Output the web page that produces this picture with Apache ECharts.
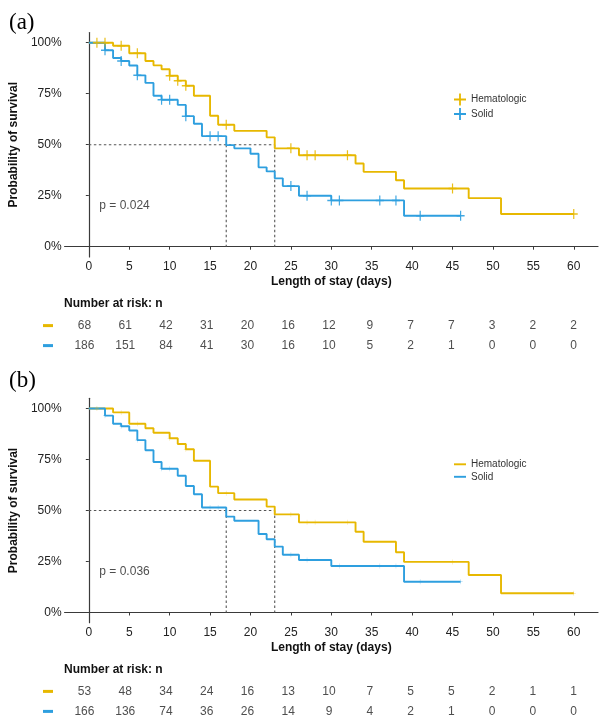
<!DOCTYPE html>
<html><head><meta charset="utf-8">
<script src="https://cdn.jsdelivr.net/npm/echarts@6/dist/echarts.min.js"></script>
<style>html,body{margin:0;padding:0;background:#fff}#c{width:607px;height:727px}</style>
</head><body><div id="c"></div>
<script>
// ---------- data ----------
const xTicks = [0, 5, 10, 15, 20, 25, 30, 35, 40, 45, 50, 55, 60];
const yTicks = [0, 25, 50, 75, 100];
const groups = ['Hematologic', 'Solid'];

// Panel (a)
const hemaTimesA = [0, 3, 5, 7, 8, 9, 10, 11, 12, 13, 15, 16, 18, 22, 23, 26, 33, 34, 38, 39, 47, 51, 60];
const hemaSurvA  = [100, 98.5, 94.8, 91.0, 88.9, 87.0, 83.8, 81.4, 78.9, 74.0, 64.2, 59.8, 56.8, 53.6, 48.2, 44.8, 40.8, 36.7, 32.6, 28.5, 23.8, 16.0, 16.0];
const hemaCensA  = [1, 2, 4, 6, 10, 11, 12, 17, 25, 27, 28, 32, 45, 60];
const solidTimesA = [0, 2, 3, 4, 5, 6, 7, 8, 9, 11, 12, 13, 14, 17, 18, 20, 21, 22, 23, 24, 26, 30, 39, 46];
const solidSurvA  = [100, 96.3, 92.5, 91.0, 88.8, 84.0, 80.3, 74.0, 72.0, 69.5, 64.0, 60.3, 54.2, 49.8, 48.2, 45.6, 38.9, 36.9, 33.5, 29.7, 25.0, 22.7, 15.2, 15.2];
const solidCensA  = [2, 4, 6, 9, 10, 12, 15, 16, 25, 27, 30, 31, 36, 38, 41, 46];
const mediansA = [17, 23];
const pValueA = 'p = 0.024';
const riskHemaA  = [68, 61, 42, 31, 20, 16, 12, 9, 7, 7, 3, 2, 2];
const riskSolidA = [186, 151, 84, 41, 30, 16, 10, 5, 2, 1, 0, 0, 0];

// Panel (b)
const hemaTimesB = [0, 3, 5, 7, 8, 10, 11, 12, 13, 15, 16, 18, 22, 23, 26, 33, 34, 38, 39, 47, 51, 60];
const hemaSurvB  = [100, 98.1, 92.5, 90.3, 88.1, 85.4, 82.6, 80.0, 74.4, 61.7, 58.5, 55.4, 51.9, 48.1, 44.2, 39.6, 34.7, 29.5, 24.8, 18.4, 9.4, 9.4];
const hemaCensB  = [1, 4, 6, 10, 12, 17, 25, 27, 28, 32, 45, 60];
const solidTimesB = [0, 2, 3, 4, 5, 6, 7, 8, 9, 11, 12, 13, 14, 17, 18, 21, 22, 23, 24, 26, 30, 39, 46];
const solidSurvB  = [100, 96.5, 92.5, 91.3, 89.2, 84.5, 79.5, 73.8, 70.5, 67.0, 62.0, 58.0, 51.5, 47.0, 45.0, 38.5, 35.9, 32.3, 28.3, 25.7, 22.8, 15.1, 15.1];
const solidCensB  = [2, 4, 6, 9, 10, 15, 16, 25, 27, 31, 36, 38, 41, 46];
const mediansB = [17, 23];
const pValueB = 'p = 0.036';
const riskHemaB  = [53, 48, 34, 24, 16, 13, 10, 7, 5, 5, 2, 1, 1];
const riskSolidB = [166, 136, 74, 36, 26, 14, 9, 4, 2, 1, 0, 0, 0];

// ---------- styling ----------
const COLORS = { Hematologic: '#E7B800', Solid: '#2E9FDF' };
const FONT = 'Liberation Sans, Arial, sans-serif';
const AXIS_COLOR = '#3a3a3a';
const PLUS = 'path://M4.25,0h1.5v4.25h4.25v1.5h-4.25v4.25h-1.5v-4.25h-4.25v-1.5h4.25z';
const DASH = 'path://M0,4.2h10v1.6h-10z';

function survAt(times, surv, t) {
  let v = surv[0];
  for (let i = 0; i < times.length; i++) { if (times[i] <= t) v = surv[i]; }
  return v;
}

const panels = [
  { label: '(a)', top: 32.5, labelTop: 6, hT: hemaTimesA, hS: hemaSurvA, hC: hemaCensA, sT: solidTimesA, sS: solidSurvA, sC: solidCensA,
    med: mediansA, p: pValueA, rH: riskHemaA, rS: riskSolidA, censSize: [8, 10], censOpacity: 0.9, legendIcon: PLUS },
  { label: '(b)', top: 398.3, labelTop: 364, hT: hemaTimesB, hS: hemaSurvB, hC: hemaCensB, sT: solidTimesB, sS: solidSurvB, sC: solidCensB,
    med: mediansB, p: pValueB, rH: riskHemaB, rS: riskSolidB, censSize: [4, 5], censOpacity: 0.35, legendIcon: DASH }
];

const PLOT_H = 224.4;
const option = { animation: false, backgroundColor: '#fff', textStyle: { fontFamily: FONT },
  title: [], grid: [], xAxis: [], yAxis: [], series: [], legend: [] };

panels.forEach((P, k) => {
  const gi = k * 2;          // main grid index
  const ri = k * 2 + 1;      // risk grid index
  const axisBottom = P.top + PLOT_H;
  option.grid.push({ left: 60, width: 538, top: P.top, height: PLOT_H });
  option.grid.push({ left: 60, width: 538, top: axisBottom + 58.7, height: 40 });

  option.title.push({ text: P.label, left: 4, top: P.labelTop,
    textStyle: { fontFamily: 'Liberation Serif, Times New Roman, serif', fontSize: 23, fontWeight: 'normal', color: '#000' } });
  option.title.push({ text: 'Number at risk: n', left: 59, top: axisBottom + 35.5,
    textStyle: { fontFamily: FONT, fontSize: 12, fontWeight: 'bold', color: '#111' } });

  option.xAxis.push({ gridIndex: gi, type: 'value', min: -3, max: 63,
    name: 'Length of stay (days)', nameLocation: 'middle', nameGap: 19,
    nameTextStyle: { fontFamily: FONT, fontSize: 12, fontWeight: 'bold', color: '#111' },
    axisLine: { lineStyle: { color: AXIS_COLOR, width: 1.2 } },
    axisTick: { show: true, length: 3, customValues: xTicks, lineStyle: { color: AXIS_COLOR } },
    axisLabel: { customValues: xTicks, margin: 4, fontSize: 12, color: '#222', fontFamily: FONT },
    splitLine: { show: false } });
  option.yAxis.push({ gridIndex: gi, type: 'value', min: -5, max: 105,
    name: 'Probability of survival', nameLocation: 'middle', nameGap: 38,
    nameTextStyle: { fontFamily: FONT, fontSize: 12, fontWeight: 'bold', color: '#111' },
    axisLine: { show: true, lineStyle: { color: AXIS_COLOR, width: 1.2 } },
    axisTick: { show: true, length: 3, customValues: yTicks, lineStyle: { color: AXIS_COLOR } },
    axisLabel: { customValues: yTicks, margin: 3, fontSize: 12, color: '#222', fontFamily: FONT, formatter: v => v + '%' },
    splitLine: { show: false } });

  // risk table axes
  option.xAxis.push({ gridIndex: ri, type: 'value', min: -3, max: 63, show: false });
  option.yAxis.push({ gridIndex: ri, type: 'category', data: groups, inverse: true,
    axisLine: { show: false }, axisTick: { show: false }, splitLine: { show: false },
    axisLabel: { margin: 7, formatter: v => '{' + (v === 'Hematologic' ? 'h' : 's') + '|}',
      rich: { h: { width: 10, height: 3, backgroundColor: COLORS.Hematologic },
              s: { width: 10, height: 3, backgroundColor: COLORS.Solid } } } });

  // KM curves
  const curves = [['Hematologic', P.hT, P.hS, P.hC], ['Solid', P.sT, P.sS, P.sC]];
  curves.forEach(([name, T, S, C]) => {
    option.series.push({ name, type: 'line', xAxisIndex: gi, yAxisIndex: gi, step: 'end',
      data: T.map((t, i) => [t, S[i]]), showSymbol: false, symbol: 'none',
      color: COLORS[name], lineStyle: { width: 1.9, color: COLORS[name] }, z: 3 });
    option.series.push({ name: name + ' censored', type: 'scatter', xAxisIndex: gi, yAxisIndex: gi,
      data: C.map(t => [t, survAt(T, S, t)]), symbol: PLUS, symbolSize: P.censSize,
      itemStyle: { color: COLORS[name], opacity: P.censOpacity }, z: 4, silent: true });
  });

  // median dashed lines
  const medMax = Math.max(...P.med);
  const dashStyle = { color: '#555', width: 1.1, type: [2.5, 2.5] };
  option.series.push({ type: 'line', xAxisIndex: gi, yAxisIndex: gi, data: [[0, 50], [medMax, 50]],
    symbol: 'none', lineStyle: dashStyle, z: 2, silent: true });
  P.med.forEach(m => option.series.push({ type: 'line', xAxisIndex: gi, yAxisIndex: gi,
    data: [[m, 50], [m, 0]], symbol: 'none', lineStyle: dashStyle, z: 2, silent: true }));

  // p value
  option.series.push({ type: 'scatter', xAxisIndex: gi, yAxisIndex: gi, data: [[1.3, 20]], symbolSize: 0, silent: true,
    label: { show: true, position: 'right', distance: 0, formatter: P.p, fontFamily: FONT, fontSize: 12, color: '#222' } });

  // risk numbers
  [['Hematologic', P.rH], ['Solid', P.rS]].forEach(([name, R]) => {
    option.series.push({ type: 'scatter', xAxisIndex: ri, yAxisIndex: ri, symbolSize: 0, silent: true,
      data: xTicks.map((t, i) => [t, name, R[i]]),
      label: { show: true, position: 'inside', formatter: p => String(p.value[2]), fontFamily: FONT, fontSize: 12, color: '#222' } });
  });

  // legend
  option.legend.push({ orient: 'vertical', left: 454, top: P.top + 61, padding: 0, itemGap: 2.5,
    itemWidth: 12, itemHeight: 12, selectedMode: false,
    textStyle: { fontFamily: FONT, fontSize: 10, color: '#333' },
    data: groups.map(g => ({ name: g, icon: P.legendIcon, itemStyle: { color: COLORS[g] } })) });
});

const chart = echarts.init(document.getElementById('c'), null, { renderer: 'canvas' });
chart.setOption(option);
</script></body></html>
